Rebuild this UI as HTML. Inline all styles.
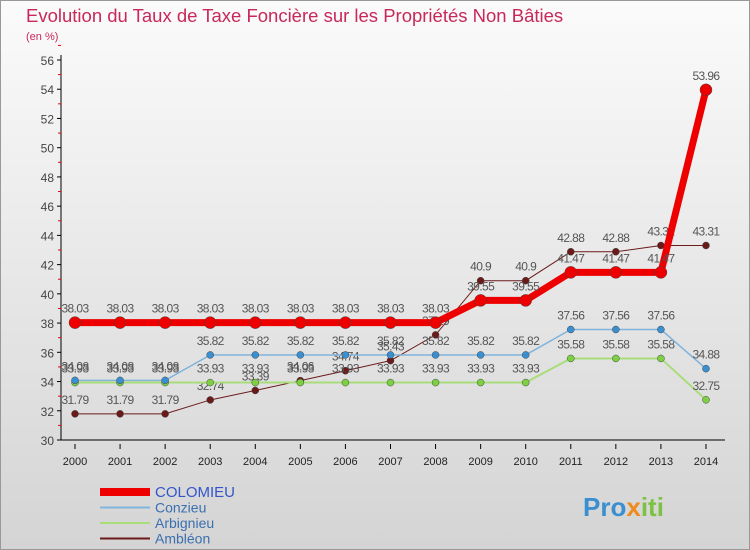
<!DOCTYPE html>
<html><head><meta charset="utf-8"><style>
body{margin:0;width:750px;height:550px;overflow:hidden;font-family:"Liberation Sans",sans-serif}
svg{display:block}
</style></head><body>
<svg id="c" width="750" height="550" xmlns="http://www.w3.org/2000/svg">
<defs><linearGradient id="bg" x1="0" y1="0" x2="0" y2="1"><stop offset="0" stop-color="#fbfbfb"/><stop offset="1" stop-color="#d4d4d4"/></linearGradient></defs>
<rect x="0.5" y="0.5" width="749" height="549" fill="url(#bg)" stroke="#999"/>
<text x="26" y="22" font-size="18.5" fill="#c8285a">Evolution du Taux de Taxe Foncière sur les Propriétés Non Bâties</text>
<text x="26" y="40" font-size="11" fill="#c8285a">(en %)</text>
<g id="axes"></g><g id="series"></g><g id="legend"></g>
<text x="583" y="516" font-size="26" font-weight="bold" fill="#3a8fd0">Pro<tspan fill="#f08a1c">x</tspan><tspan fill="#7cc242">iti</tspan></text>
</svg>
<script>
const years=["2000","2001","2002","2003","2004","2005","2006","2007","2008","2009","2010","2011","2012","2013","2014"];
const yTicks=[30,32,34,36,38,40,42,44,46,48,50,52,54,56];
const colomieu=[38.03,38.03,38.03,38.03,38.03,38.03,38.03,38.03,38.03,39.55,39.55,41.47,41.47,41.47,53.96];
const conzieu=[34.08,34.08,34.08,35.82,35.82,35.82,35.82,35.82,35.82,35.82,35.82,37.56,37.56,37.56,34.88];
const arbignieu=[33.93,33.93,33.93,33.93,33.93,33.93,33.93,33.93,33.93,33.93,33.93,35.58,35.58,35.58,32.75];
const ambleon=[31.79,31.79,31.79,32.74,33.39,34.06,34.74,35.43,37.19,40.9,40.9,42.88,42.88,43.31,43.31];
const seriesNames=["COLOMIEU","Conzieu","Arbignieu","Ambléon"];
const NS="http://www.w3.org/2000/svg";
const X=i=>75+i*45.07, Y=v=>440-(v-30)*380/26;
function mk(t,a,p){const e=document.createElementNS(NS,t);for(const k in a)e.setAttribute(k,a[k]);p.appendChild(e);return e;}
const ax=document.getElementById('axes');
let l=mk('line',{x1:61,y1:55,x2:61,y2:440,stroke:'#000'},ax);

l=mk('line',{x1:61,y1:440,x2:725,y2:440,stroke:'#000'},ax);

yTicks.forEach(v=>{mk('line',{x1:57,y1:Y(v),x2:61,y2:Y(v),stroke:'#000'},ax);
 mk('line',{x1:58,y1:Y(v+1),x2:61,y2:Y(v+1),stroke:'#e00'},ax);
 const t=mk('text',{x:54,y:Y(v)+5,'font-size':12,'text-anchor':'end',fill:'#444'},ax);t.textContent=v;
 });
years.forEach((y,i)=>{mk('line',{x1:X(i),y1:444,x2:X(i),y2:449,stroke:'#000'},ax);
 const t=mk('text',{x:X(i),y:465,'font-size':11,'text-anchor':'middle',fill:'#222'},ax);t.textContent=y;
 });
const sg=document.getElementById('series');
const defs=[[ambleon,'#6b1a1a','#6b1a1a',1,3.5,'ambleon'],[arbignieu,'#a8dd7a','#7cd042',2,3.5,'arbignieu'],[conzieu,'#80b4dc','#3a8fd0',1.5,3.5,'conzieu'],[colomieu,'#ee0000','#ee0000',7,6,'colomieu']];
defs.forEach(([d,lc,pc,w,r,n])=>{
 const g=mk('g',{},sg);
 const p=mk('polyline',{points:d.map((v,i)=>X(i)+','+Y(v)).join(' '),fill:'none',stroke:lc,'stroke-width':w},g);
 
 d.forEach((v,i)=>{const c=mk('circle',{cx:X(i),cy:Y(v),r:r,fill:pc,stroke:'#444','stroke-width':0.5},g);
  
  const t=mk('text',{x:X(i),y:Y(v)-10,'font-size':12,'text-anchor':'middle',fill:'#555','letter-spacing':'-0.6'},g);t.textContent=v;
  });
});
const lg=document.getElementById('legend');
const lstyle=[['#ee0000',8,'#3355cc',15],['#80b4dc',2,'#3a6fb0',14],['#a8dd7a',2,'#3a6fb0',14],['#6b1a1a',2,'#3a6fb0',14]];
seriesNames.forEach((s,i)=>{const y=492+i*15.5;
 const ln=mk('line',{x1:100,y1:y,x2:150,y2:y,stroke:lstyle[i][0],'stroke-width':lstyle[i][1]},lg);
 
 const t=mk('text',{x:155,y:y+5,'font-size':lstyle[i][3],fill:lstyle[i][2]},lg);t.textContent=s;
 });
</script>
</body></html>
